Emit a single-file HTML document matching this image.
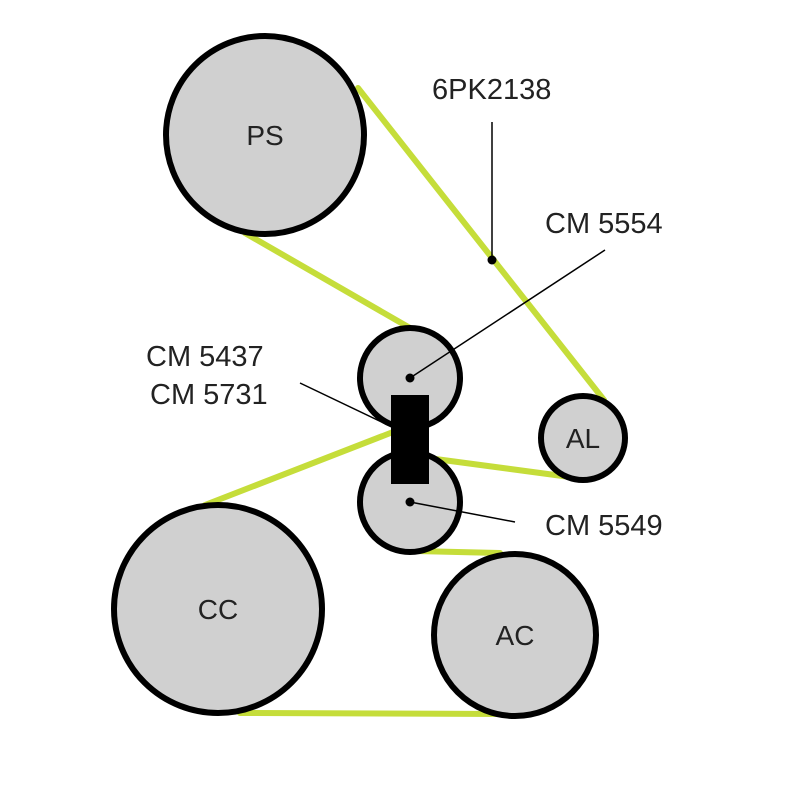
<!DOCTYPE html>
<html><head><style>body{margin:0;background:#fff}svg{display:block}</style></head><body>
<svg width="800" height="800" viewBox="0 0 800 800" xmlns="http://www.w3.org/2000/svg" font-family="Liberation Sans, sans-serif">
<g stroke="#c5dd3a" stroke-width="6" fill="none" stroke-linecap="round">
<line x1="358" y1="88" x2="604" y2="400"/>
<line x1="245" y1="233" x2="410" y2="328"/>
<line x1="393" y1="432" x2="205" y2="505"/>
<line x1="428" y1="458" x2="570" y2="477"/>
<line x1="415" y1="551" x2="500" y2="553"/>
<line x1="240" y1="713" x2="505" y2="714"/>
</g>
<g fill="#d0d0d0" stroke="#000" stroke-width="6">
<circle cx="265" cy="135" r="99"/>
<circle cx="410" cy="378" r="50"/>
<circle cx="410" cy="502" r="50"/>
<circle cx="583" cy="438" r="42"/>
<circle cx="218" cy="609" r="104"/>
<circle cx="515" cy="635" r="81"/>
</g>
<rect x="391" y="395" width="38" height="89" fill="#000"/>
<g stroke="#000" stroke-width="1.5">
<line x1="492" y1="122" x2="492" y2="260"/>
<line x1="410" y1="378" x2="605" y2="250"/>
<line x1="300" y1="383" x2="392" y2="427"/>
<line x1="410" y1="502" x2="515" y2="522"/>
</g>
<circle cx="492" cy="260" r="4.5" fill="#000"/>
<circle cx="410" cy="378" r="4.5" fill="#000"/>
<circle cx="410" cy="502" r="4.5" fill="#000"/>
<g fill="#222" font-size="28">
<text x="265" y="145" text-anchor="middle">PS</text>
<text x="583" y="448" text-anchor="middle">AL</text>
<text x="218" y="619" text-anchor="middle">CC</text>
<text x="515" y="645" text-anchor="middle">AC</text>
</g>
<g fill="#222" font-size="29">
<text x="432" y="99">6PK2138</text>
<text x="545" y="233">CM 5554</text>
<text x="146" y="366">CM 5437</text>
<text x="150" y="404">CM 5731</text>
<text x="545" y="535">CM 5549</text>
</g>
</svg>
</body></html>
